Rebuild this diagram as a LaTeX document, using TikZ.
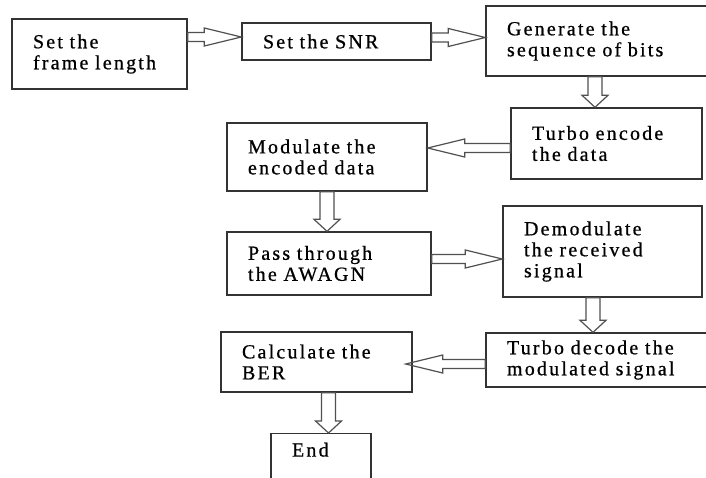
\documentclass[tikz,border=0pt]{standalone}
\usepackage{fontspec}
\setmainfont{Liberation Serif}[LetterSpace=11, FakeBold=0.7]
\usepackage{tikz}
\usetikzlibrary{calc}

\definecolor{boxline}{HTML}{333333}
\definecolor{arrowline}{HTML}{505050}

\tikzset{
    stage/.style={draw=boxline, line width=1.4pt, rectangle, align=left, inner xsep=21pt,
        font=\fontsize{20}{21}\selectfont},
    blockarrow/.style n args={3}{draw=arrowline, line width=1.2pt,
        to path={let \p1=($(\tikztotarget)!#1!(\tikztostart)$) in
            ($(\tikztostart)!#2!90:(\tikztotarget)$) -- ($(\p1)!#2!90:(\tikztotarget)$)
            -- ($(\p1)!#3!90:(\tikztotarget)$) -- (\tikztotarget)
            -- ($(\p1)!#3!-90:(\tikztotarget)$) -- ($(\p1)!#2!-90:(\tikztotarget)$)
            -- ($(\tikztostart)!#2!-90:(\tikztotarget)$) -- cycle}},
    harrow/.style={blockarrow={37pt}{4.5pt}{9pt}},
    varrow/.style={blockarrow={12pt}{7pt}{13pt}}
}

\begin{document}
\begin{tikzpicture}[x=1pt, y=-1pt]
    \useasboundingbox (0,0) rectangle (706,477);
    \clip (0,0) rectangle (706,477);
    \node[stage, text width=133pt, minimum height=70pt] (frame) at (99.5,54) {Set~the\\frame~length};
    \node[stage, text width=147pt, minimum height=37pt] (snr) at (336.5,41.5) {Set~the~SNR};
    \node[stage, text width=192pt, minimum height=70pt] (bits) at (603,41) {Generate~the\\sequence~of~bits};
    \node[stage, text width=149pt, minimum height=71pt] (encode) at (606.5,143.5) {Turbo~encode\\the~data};
    \node[stage, text width=158pt, minimum height=68pt] (modulate) at (327,157) {Modulate~the\\encoded~data};
    \node[stage, text width=162pt, minimum height=63pt] (channel) at (329,263.5) {Pass~through\\the~AWAGN};
    \node[stage, text width=157pt, minimum height=91pt] (demod) at (602.5,251.5) {Demodulate\\the~received\\signal};
    \node[stage, text width=192pt, minimum height=54pt] (decode) at (603,360) {Turbo~decode~the\\modulated~signal};
    \node[stage, text width=149pt, minimum height=60pt] (ber) at (316.5,362) {Calculate~the\\BER};
    \node[stage, text width=58pt, anchor=north, inner ysep=9pt, text depth=40pt] (end) at (321,433) {End};

    \draw[harrow] ([yshift=4.5pt]frame.east |- snr.west) to ([yshift=4.5pt]snr.west);
    \draw[harrow] ([yshift=4pt]snr.east) to ([yshift=4pt]snr.east -| bits.west);
    \draw[varrow] ([xshift=-8pt]bits.south) to ([xshift=-8pt]bits.south |- encode.north);
    \draw[harrow] ([yshift=-4.5pt]encode.west) to ([yshift=-4.5pt]encode.west -| modulate.east);
    \draw[varrow] (modulate.south) to (modulate.south |- channel.north);
    \draw[harrow] ([yshift=4.5pt]channel.east) to ([yshift=4.5pt]channel.east -| demod.west);
    \draw[varrow] ([xshift=-9.5pt]demod.south) to ([xshift=-9.5pt]demod.south |- decode.north);
    \draw[harrow] ([yshift=-4pt]decode.west) to ([yshift=-4pt,xshift=-7pt]decode.west -| ber.east);
    \draw[varrow] ([xshift=12pt]ber.south) to ([xshift=12pt]ber.south |- end.north);
\end{tikzpicture}
\end{document}
